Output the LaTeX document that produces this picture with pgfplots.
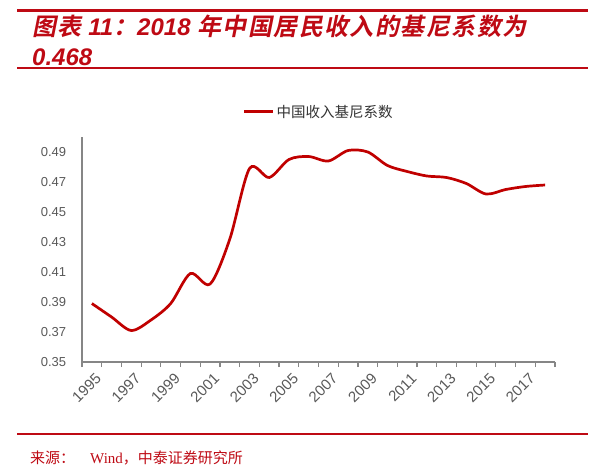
\documentclass[border=0pt]{standalone}
\usepackage{fontspec}
\setmainfont{Liberation Sans}
\newfontfamily\cjk{Noto Sans CJK SC}
\newfontfamily\cjkbold{Noto Sans CJK SC Bold}[FakeSlant=0.2,LetterSpace=6]
\newfontfamily\serif{Liberation Serif}
\usepackage{pgfplots}
\usepackage{pgfplotstable}
\pgfplotsset{compat=1.18}

\definecolor{zhred}{RGB}{192,0,0}
\definecolor{titlered}{RGB}{190,10,20}
\definecolor{axgray}{RGB}{134,134,134}
\definecolor{lblgray}{RGB}{89,89,89}

% Gini coefficient, 1995-2018 (index 0 = 1995)
\pgfplotstableread{
x y
0 0.389
1 0.380
2 0.371
3 0.378
4 0.389
5 0.409
6 0.402
7 0.432
8 0.479
9 0.473
10 0.485
11 0.487
12 0.484
13 0.491
14 0.490
15 0.481
16 0.477
17 0.474
18 0.473
19 0.469
20 0.462
21 0.465
22 0.467
23 0.468
}\gini

\begin{document}
\begin{tikzpicture}
\path[use as bounding box] (0,0) rectangle (609pt,-471pt);

% header
\draw[titlered,line width=3pt] (17pt,-10pt) -- (588pt,-10pt);
\node[anchor=north west,inner sep=0pt,text=titlered,align=left,
      font=\fontsize{24}{30}\selectfont] at (32pt,-15pt)
  {{\cjkbold 图表}{\bfseries\itshape\ 11}{\cjkbold ：}{\bfseries\itshape 2018 }{\cjkbold 年中国居民收入的基尼系数为}\\
   {\bfseries\itshape 0.468}};
\draw[titlered,line width=2.5pt] (17pt,-68pt) -- (588pt,-68pt);

\begin{axis}[
  at={(82pt,-362pt)}, anchor=south west,
  scale only axis, width=473pt, height=225pt,
  xmin=-0.5, xmax=23.5, ymin=0.35, ymax=0.50,
  axis x line*=bottom, axis y line*=left,
  axis line style={axgray,line width=1.3pt,-},
  ytick={0.35,0.37,0.39,0.41,0.43,0.45,0.47,0.49},
  yticklabel style={/pgf/number format/fixed,/pgf/number format/precision=2,
    /pgf/number format/fixed zerofill,/pgf/number format/assume math mode=true,
    text=lblgray,font=\fontsize{13}{15}\selectfont,xshift=-8pt},
  y tick style={draw=none},
  xtick={0,2,...,22},
  xticklabels={1995,1997,1999,2001,2003,2005,2007,2009,2011,2013,2015,2017},
  xticklabel style={rotate=45,anchor=north east,text=lblgray,
    font=\fontsize{15}{17}\selectfont,xshift=1pt,yshift=-3pt},
  major x tick style={draw=none},
  minor xtick={-0.5,0.5,...,23.5},
  minor x tick style={axgray,line width=1.2pt},
  minor tick length=5pt,
  tick align=outside,
  legend style={at={(0.5,1)},anchor=south,yshift=14pt,draw=none,
    font=\cjk\fontsize{14.5}{16}\selectfont,text=black!80},
  legend cell align=left,
  legend image code/.code={\draw[zhred,line width=3pt] (0pt,0pt) -- (29pt,0pt);},
]
\addplot[zhred,line width=2.7pt,smooth,tension=0.5] table[x=x,y=y] {\gini};
\legend{中国收入基尼系数}
\end{axis}

% footer
\draw[titlered,line width=2.5pt] (17pt,-434pt) -- (588pt,-434pt);
\node[anchor=west,inner sep=0pt,text=titlered,font=\fontsize{15}{17}\selectfont]
  at (30pt,-458pt) {{\cjk 来源：}\quad{\serif Wind}{\cjk ，中泰证券研究所}};
\end{tikzpicture}
\end{document}
